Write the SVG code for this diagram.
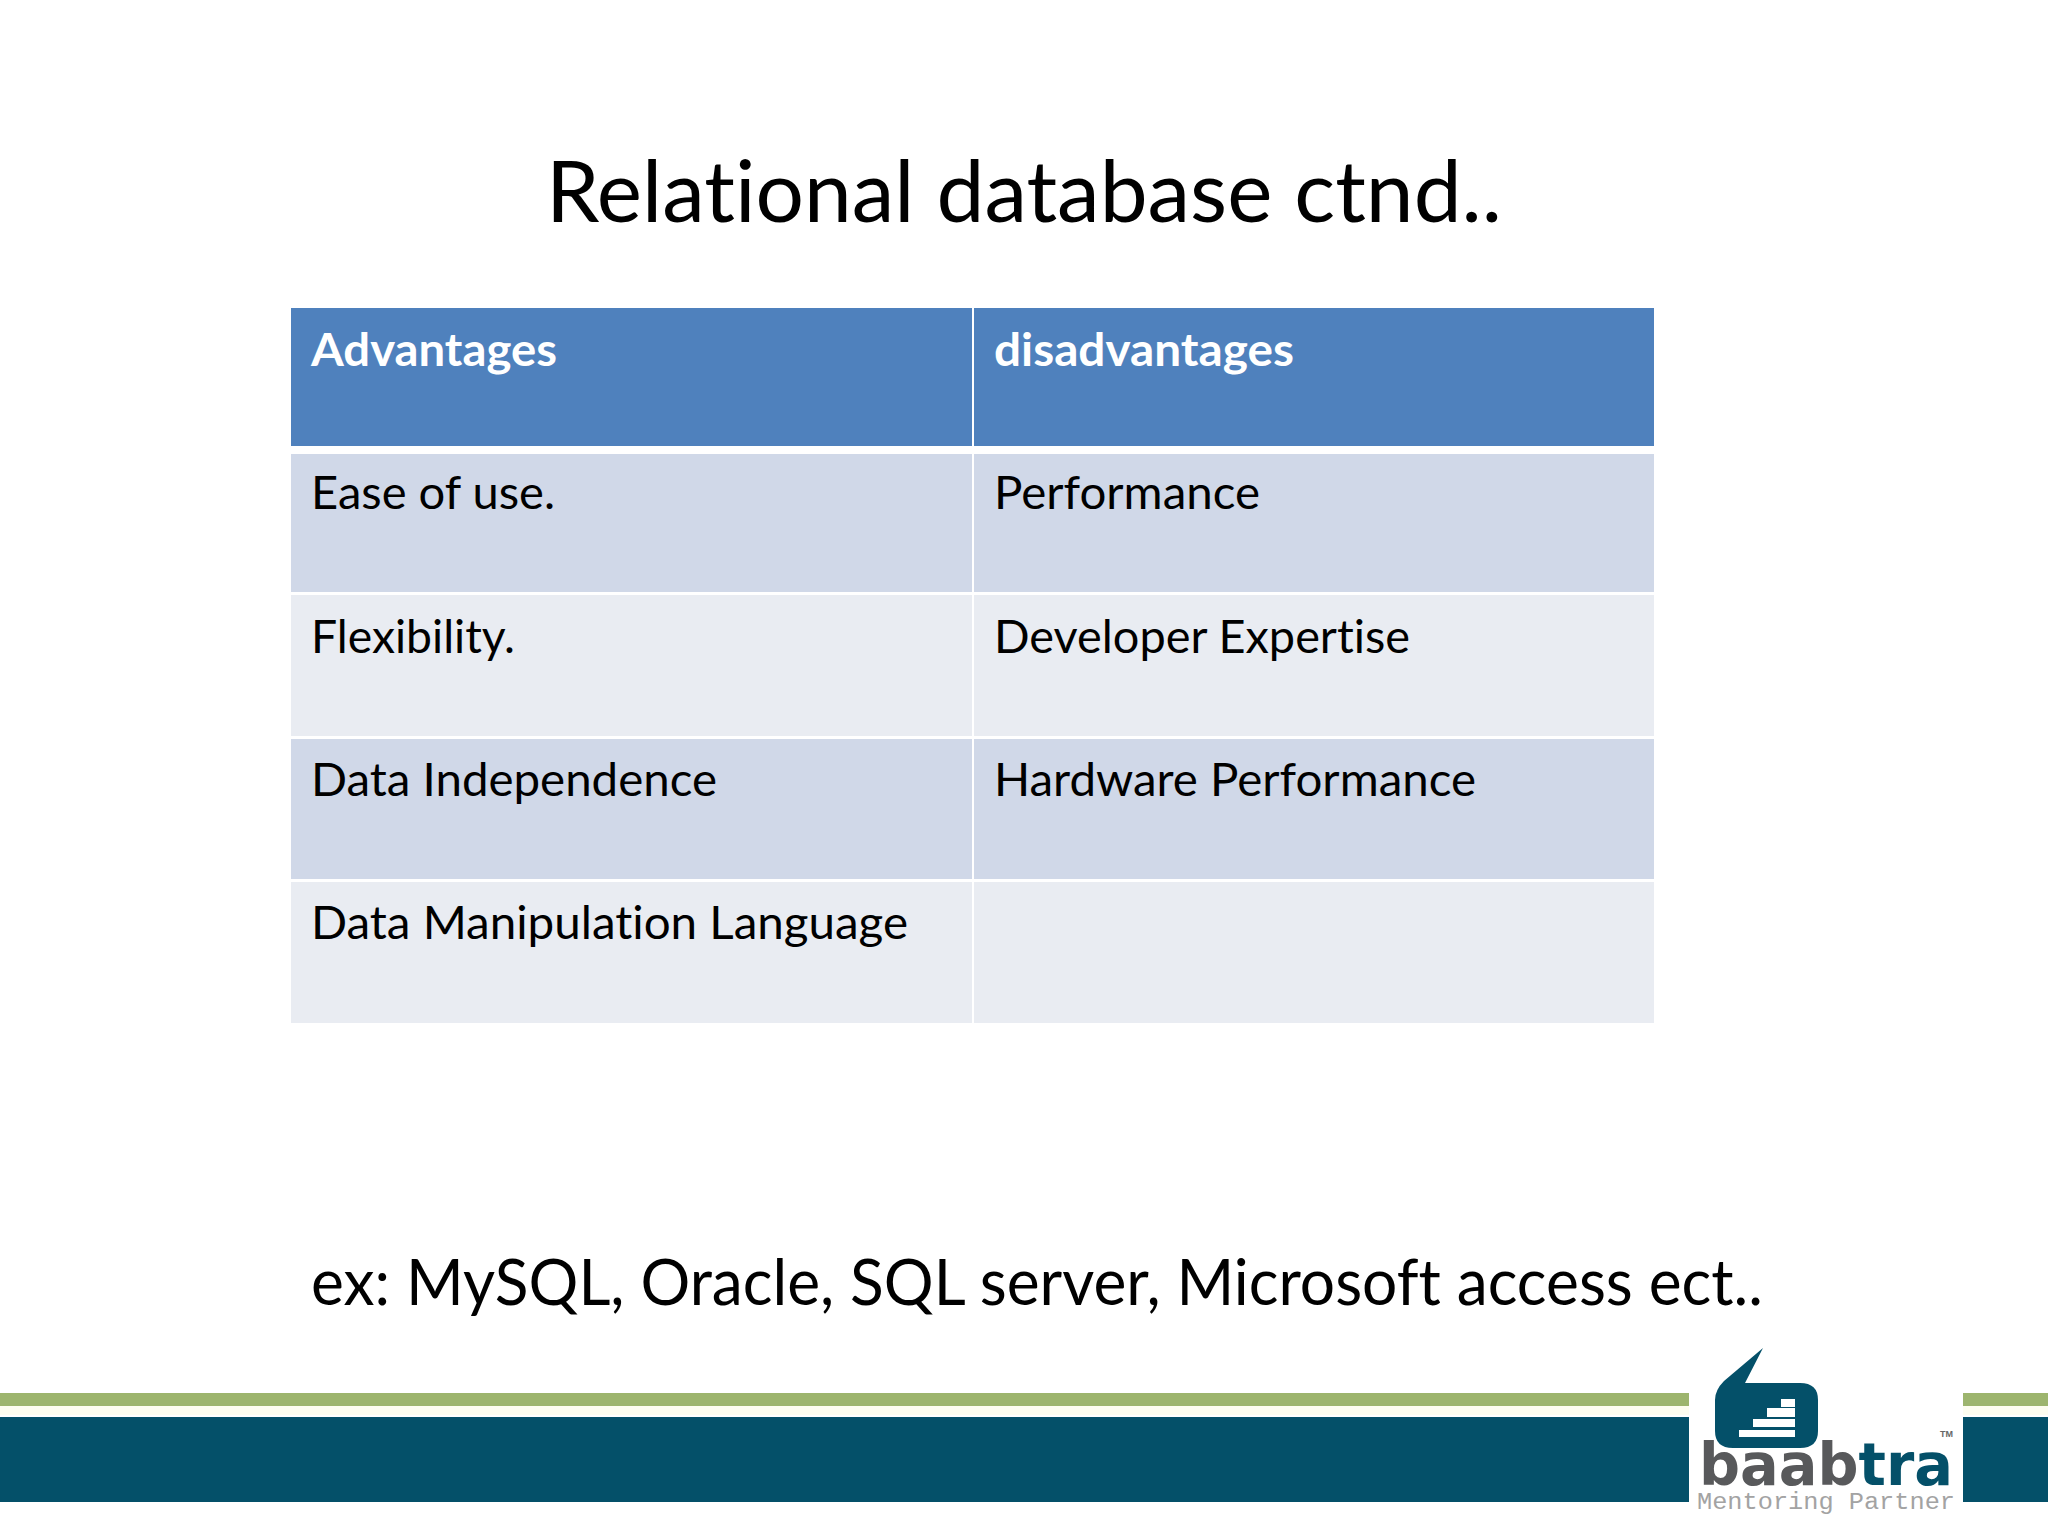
<svg xmlns="http://www.w3.org/2000/svg" width="2048" height="1536" viewBox="0 0 2048 1536">
<style>
text{font-family:"Lato","Open Sans","Liberation Sans",sans-serif;fill:#000;font-variant-ligatures:none}
.cell{font-size:46px}
.head{font-size:46px;font-weight:700;fill:#fff}
.h{fill:#4f81bd}.a{fill:#d0d8e8}.b{fill:#e9ecf2}
.green{fill:#9db56e}.teal{fill:#045069}
</style>
<rect width="2048" height="1536" fill="#fff"/>
<g id="title"><text x="546" y="222" font-size="85" textLength="956" lengthAdjust="spacingAndGlyphs">Relational database ctnd..</text></g>
<g id="table">
<rect class="h" x="291" y="308" width="681" height="138"/><rect class="h" x="974" y="308" width="680" height="138"/>
<rect class="a" x="291" y="454" width="681" height="138"/><rect class="a" x="974" y="454" width="680" height="138"/>
<rect class="b" x="291" y="595" width="681" height="141"/><rect class="b" x="974" y="595" width="680" height="141"/>
<rect class="a" x="291" y="739" width="681" height="140"/><rect class="a" x="974" y="739" width="680" height="140"/>
<rect class="b" x="291" y="882" width="681" height="141"/><rect class="b" x="974" y="882" width="680" height="141"/>
<text class="head" x="311" y="366" textLength="246" lengthAdjust="spacingAndGlyphs">Advantages</text>
<text class="head" x="994" y="366" textLength="300" lengthAdjust="spacingAndGlyphs">disadvantages</text>
<text class="cell" x="311" y="509" textLength="244" lengthAdjust="spacingAndGlyphs">Ease of use.</text>
<text class="cell" x="994" y="509" textLength="266" lengthAdjust="spacingAndGlyphs">Performance</text>
<text class="cell" x="311" y="653" textLength="204" lengthAdjust="spacingAndGlyphs">Flexibility.</text>
<text class="cell" x="994" y="653" textLength="416" lengthAdjust="spacingAndGlyphs">Developer Expertise</text>
<text class="cell" x="311" y="796" textLength="406" lengthAdjust="spacingAndGlyphs">Data Independence</text>
<text class="cell" x="994" y="796" textLength="482" lengthAdjust="spacingAndGlyphs">Hardware Performance</text>
<text class="cell" x="311" y="939" textLength="597" lengthAdjust="spacingAndGlyphs">Data Manipulation Language</text>
</g>
<g id="example"><text x="311" y="1305" font-size="64" textLength="1452" lengthAdjust="spacingAndGlyphs">ex: MySQL, Oracle, SQL server, Microsoft access ect..</text></g>
<g id="footer">
<rect class="green" x="0" y="1393" width="1689" height="13"/><rect class="green" x="1963" y="1393" width="85" height="13"/>
<rect x="0" y="1406" width="1689" height="9" fill="#fdfdf0"/><rect x="1963" y="1406" width="85" height="9" fill="#fdfdf0"/>
<rect class="teal" x="0" y="1417" width="1689" height="85"/><rect class="teal" x="1963" y="1417" width="85" height="85"/>
</g>
<g id="logo">
<path class="teal" d="M1763 1348L1745 1383H1800Q1818 1383 1818 1400V1431Q1818 1448 1800 1448H1733Q1715 1448 1715 1431V1400Q1715 1390 1724 1381Z"/>
<g fill="#fff"><rect x="1739" y="1430" width="56" height="7"/><rect x="1753" y="1419" width="42" height="8"/><rect x="1767" y="1408" width="28" height="9"/><rect x="1781" y="1399" width="14" height="8"/></g>
<text x="1699" y="1485" font-size="58" style="font-family:'DejaVu Sans',sans-serif;font-weight:700;fill:#58595b" textLength="254" lengthAdjust="spacingAndGlyphs">baab<tspan style="fill:#045069">tra</tspan></text>
<text x="1697" y="1509" font-size="23" style="font-family:'Liberation Mono',monospace;fill:#a3a3a3" textLength="258" lengthAdjust="spacingAndGlyphs">Mentoring Partner</text>
<text x="1940" y="1437" font-size="9" style="font-family:'Liberation Sans',sans-serif;font-weight:700;fill:#666">TM</text>
</g>
</svg>
